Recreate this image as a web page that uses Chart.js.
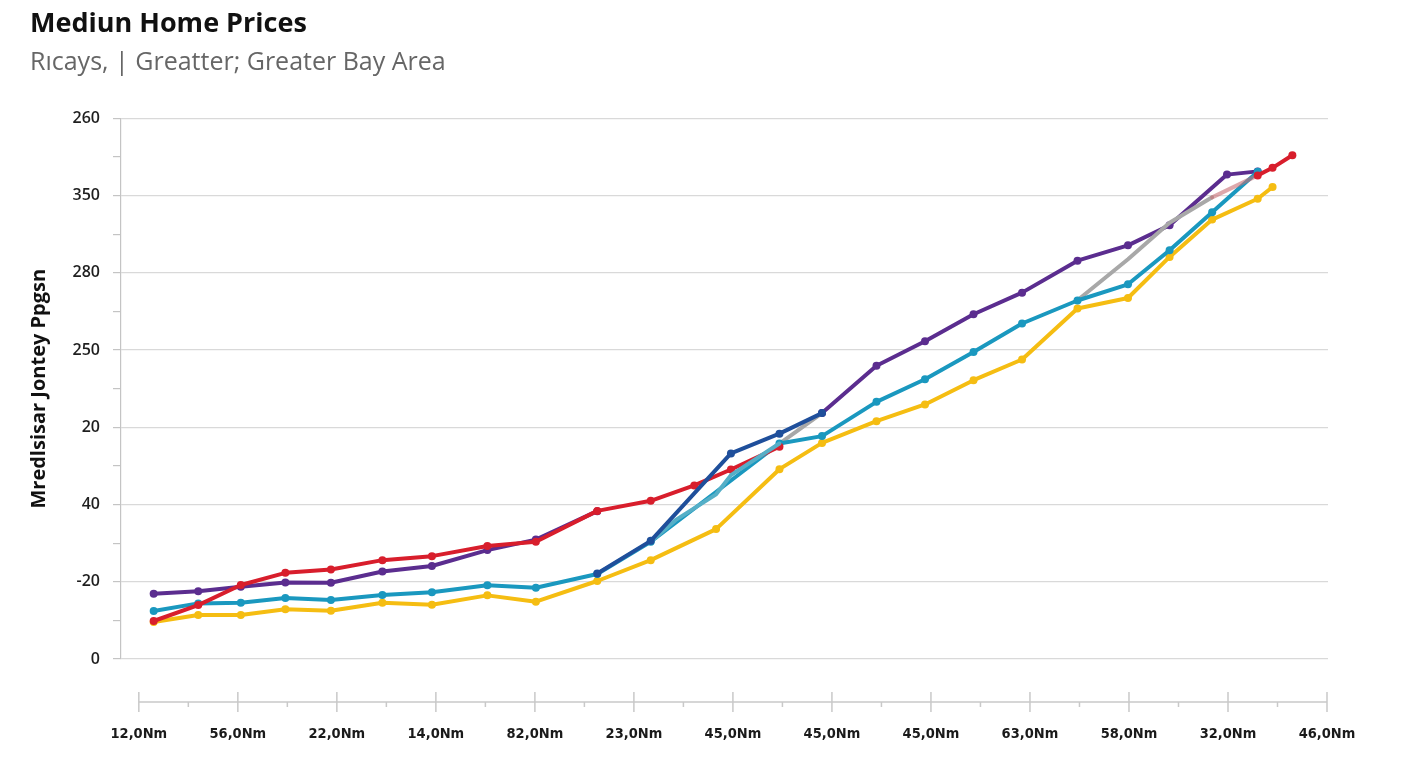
<!DOCTYPE html>
<html>
<head>
<meta charset="utf-8">
<title>Mediun Home Prices</title>
<script src="https://cdn.jsdelivr.net/npm/chart.js@4.4.0/dist/chart.umd.min.js"></script>
<style>
  html, body { margin: 0; padding: 0; background: #fff; overflow: hidden; }
  canvas { display: block; }
</style>
</head>
<body>
<canvas id="priceChart" width="1408" height="768"></canvas>
<script>
// Axis labels as printed on the chart
const xTickLabels = ['12,0Nm', '56,0Nm', '22,0Nm', '14,0Nm', '82,0Nm', '23,0Nm', '45,0Nm',
                     '45,0Nm', '45,0Nm', '63,0Nm', '58,0Nm', '32,0Nm', '46,0Nm'];
const yTickLabels = ['0', '-20', '40', '20', '250', '280', '350', '260'];

// Sample positions along the x axis (in tick units), shared by every series
const xPos = [0.15, 0.60, 1.03, 1.48, 1.94, 2.46, 2.96, 3.52, 4.01, 4.63,
              5.17, 5.42, 5.61, 5.83, 5.98, 6.47, 6.90, 7.45, 7.94, 8.43,
              8.92, 9.48, 9.99, 10.41, 10.84, 10.99, 11.30, 11.45, 11.65];

// Series values (null = no point at that position)
const purpleVals = [42.3, 43.8, 46.8, 49.5, 49.4, 56.7, 60.2, 70.5, 77.3, 95.7,
                    null, null, null, null, null, null, 159.2, 189.8, 205.7, 223.2,
                    237.2, 257.9, 267.8, 280.8, null, 313.6, 315.7, null, null];
const redVals = [24.6, 34.9, 47.9, 55.8, 58.0, 64.0, 66.6, 73.1, 75.9, 95.9,
                 102.4, null, 112.4, null, 122.7, 137.4, null, null, null, null,
                 null, null, null, null, null, null, 313.1, 318.0, 326.1];
const navyVals = [null, null, null, null, null, null, null, null, null, 55.4,
                  76.5, null, null, null, 133.1, 145.9, 159.2, null, null, null,
                  null, null, null, null, null, null, null, null, null];
const tealVals = [31.1, 36.0, 36.4, 39.5, 38.2, 41.4, 43.2, 47.7, 46.1, 55.0,
                  75.9, null, null, null, null, 139.5, 144.3, 166.5, 181.1, 198.8,
                  217.2, 232.1, 242.6, 264.6, 289.2, null, 315.4, null, null];
const lightTealVals = [null, null, null, null, null, null, null, null, null, null,
                       75.9, 89.9, null, 106.6, 119.0, 139.5, null, null, null, null,
                       null, null, null, null, null, null, null, null, null];
const yellowVals = [23.9, 28.5, 28.5, 32.2, 31.2, 36.4, 35.1, 41.2, 37.1, 50.5,
                    64.0, null, null, 84.1, null, 122.9, 139.9, 154.0, 164.8, 180.5,
                    193.9, 226.9, 233.7, 260.3, 284.5, null, 298.0, 305.6, null];
const grayVals = [null, null, null, null, null, null, null, null, null, null,
                  null, null, null, null, null, 139.5, 159.2, null, null, null,
                  null, 232.3, 258.8, 282.4, 298.9, null, null, null, null];
const blendVals = [null, null, null, null, null, null, null, null, null, null,
                   null, null, null, null, null, null, null, null, null, null,
                   null, null, null, null, 298.9, null, 313.1, null, null];

function toPoints(vals) {
    return xPos.map((x, i) => ({ x: x, y: vals[i] })).filter(p => p.y !== null);
}

function series(vals, color, order, points = true) {
    return {
        data: toPoints(vals),
        borderColor: color,
        backgroundColor: color,
        pointBackgroundColor: color,
        pointBorderWidth: 0,
        pointRadius: points ? 4 : 0,
        borderWidth: 4,
        borderJoinStyle: 'round',
        borderCapStyle: 'round',
        tension: 0,
        spanGaps: 1.5,
        order: order
    };
}

// detached x axis line with crossing tick marks
const xAxisLine = {
    id: 'xAxisLine',
    afterDraw(chart) {
        const { ctx, chartArea, scales: { x } } = chart;
        const y = chartArea.bottom + 43;
        ctx.save();
        ctx.strokeStyle = '#c9c9c9';
        ctx.lineWidth = 1.5;
        ctx.beginPath();
        ctx.moveTo(x.getPixelForValue(0), y);
        ctx.lineTo(x.getPixelForValue(xTickLabels.length - 1), y);
        x.ticks.forEach(t => {
            const px = x.getPixelForValue(t.value);
            const major = Number.isInteger(t.value);
            ctx.moveTo(px, major ? y - 10 : y);
            ctx.lineTo(px, major ? y + 10 : y + 5);
        });
        ctx.stroke();
        ctx.restore();
    }
};

new Chart(document.getElementById('priceChart'), {
    type: 'line',
    data: {
        datasets: [
            series(navyVals, '#1f4f9b', 0),
            series(lightTealVals, '#55afc7', 1, false),
            series(redVals, '#d81e2c', 2),
            series(blendVals, 'rgba(200,110,115,0.6)', 3, false),
            series(tealVals, '#1a98bf', 4),
            series(grayVals, '#a8a8a8', 5, false),
            series(purpleVals, '#5b2d8f', 6),
            series(yellowVals, '#f5bd12', 7)
        ]
    },
    options: {
        responsive: false,
        animation: false,
        layout: { padding: { left: 30, right: 80, top: 0, bottom: 24 } },
        plugins: {
            legend: { display: false },
            tooltip: { enabled: false },
            title: {
                display: true,
                text: 'Mediun Home Prices',
                align: 'start',
                color: '#111',
                font: { family: 'Open Sans', size: 27, weight: 'bold' },
                padding: { top: 8, bottom: 0 }
            },
            subtitle: {
                display: true,
                text: 'Rıcays, | Greatter; Greater Bay Area',
                align: 'start',
                color: '#666',
                font: { family: 'Open Sans', size: 25, weight: 'normal' },
                padding: { top: 7, bottom: 41 }
            }
        },
        scales: {
            x: {
                type: 'linear',
                min: -0.18,
                max: 12.01,
                afterBuildTicks: (scale) => {
                    const ticks = [];
                    for (let v = 0; v <= xTickLabels.length - 1; v += 0.5) ticks.push({ value: v });
                    scale.ticks = ticks;
                },
                afterFit: (scale) => { scale.height = 85; },
                // invisible tick marks only push the labels down below the detached axis line
                grid: { display: true, drawOnChartArea: false, drawTicks: true, tickLength: 64, tickColor: 'rgba(0,0,0,0)' },
                border: { display: false },
                ticks: {
                    autoSkip: false,
                    maxRotation: 0,
                    padding: 3,
                    color: '#1a1a1a',
                    font: { family: 'DejaVu Sans Condensed', size: 14.5, weight: 'bold' },
                    callback: (value) => Number.isInteger(value) ? xTickLabels[value] : ''
                }
            },
            y: {
                min: 0,
                max: 350,
                afterBuildTicks: (scale) => {
                    const ticks = [];
                    for (let v = 0; v <= 350; v += 25) ticks.push({ value: v });
                    scale.ticks = ticks;
                },
                afterFit: (scale) => { scale.width = 91; },
                grid: {
                    color: (ctx) => ctx.tick && ctx.tick.value % 50 === 0 ? '#d9d9d9' : 'rgba(0,0,0,0)',
                    tickColor: '#c4c4c4',
                    tickLength: 8,
                    lineWidth: 1.2
                },
                border: { display: true, color: '#c4c4c4', width: 1.2 },
                ticks: {
                    autoSkip: false,
                    padding: 13,
                    color: '#1f1f1f',
                    font: { family: 'Open Sans', size: 16, weight: '600' },
                    callback: (value) => value % 50 === 0 ? yTickLabels[value / 50] : ''
                },
                title: {
                    display: true,
                    text: 'Mredlsisar Jontey Ppgsn',
                    color: '#111',
                    font: { family: 'Open Sans', size: 20, weight: 'bold', lineHeight: 0.9 },
                    padding: { top: 0, bottom: 0 }
                }
            }
        }
    },
    plugins: [xAxisLine]
});
</script>
</body>
</html>
